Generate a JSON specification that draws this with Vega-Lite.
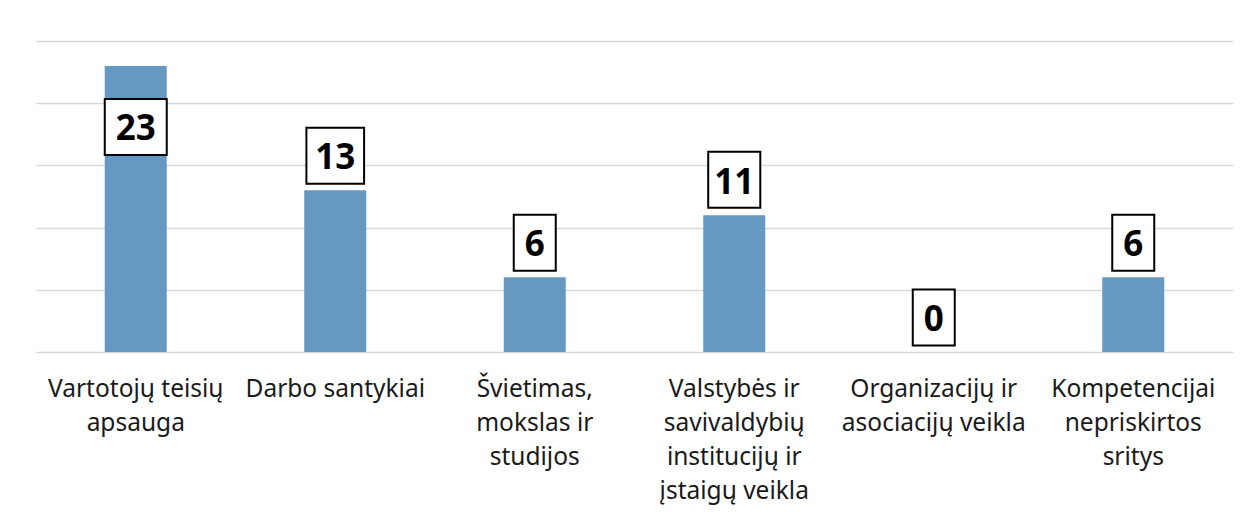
{
  "$schema": "https://vega.github.io/schema/vega-lite/v6.json",
  "width": 1197,
  "height": 311,
  "autosize": {"type": "none"},
  "padding": {"left": 36, "top": 41, "right": 16, "bottom": 161},
  "background": "white",
  "config": {"view": {"stroke": null}, "font": "Noto Sans"},
  "data": {
    "values": [
      {"cat": "Vartotojų teisių|apsauga", "value": 23},
      {"cat": "Darbo santykiai", "value": 13},
      {"cat": "Švietimas,|mokslas ir|studijos", "value": 6},
      {"cat": "Valstybės ir|savivaldybių|institucijų ir|įstaigų veikla", "value": 11},
      {"cat": "Organizacijų ir|asociacijų veikla", "value": 0},
      {"cat": "Kompetencijai|nepriskirtos|sritys", "value": 6}
    ]
  },
  "encoding": {
    "x": {
      "field": "cat",
      "type": "nominal",
      "sort": null,
      "scale": {"paddingInner": 0, "paddingOuter": 0},
      "axis": {
        "title": null,
        "domain": false,
        "ticks": false,
        "labelAngle": 0,
        "labelExpr": "split(datum.label, '|')",
        "labelFont": "Noto Sans",
        "labelFontSize": 24.5,
        "labelColor": "#1a1a1a",
        "labelLineHeight": 34,
        "labelPadding": 25,
        "labelBaseline": "top",
        "labelOverlap": false,
        "labelLimit": 400
      }
    },
    "y": {
      "field": "value",
      "type": "quantitative",
      "scale": {"domain": [0, 25], "nice": false},
      "axis": {
        "values": [0, 5, 10, 15, 20, 25],
        "grid": true,
        "gridColor": "#d9d9d9",
        "gridWidth": 1.5,
        "labels": false,
        "ticks": false,
        "domain": false,
        "title": null
      }
    }
  },
  "layer": [
    {"mark": {"type": "bar", "width": 62, "color": "#6599C2"}},
    {
      "transform": [{"filter": "datum.value <= 20"}],
      "mark": {"type": "point", "filled": false, "fill": "white", "fillOpacity": 1, "stroke": "black", "strokeWidth": 2, "opacity": 1, "size": 3136},
      "encoding": {
        "shape": {
          "condition": [
            {"test": "datum.value == 11", "value": "M-0.93,-2.268H0.93V-0.268H-0.93Z"},
            {"test": "datum.value >= 10", "value": "M-1.03,-2.232H1.03V-0.232H-1.03Z"}
          ],
          "value": "M-0.75,-2.232H0.75V-0.232H-0.75Z"
        }
      }
    },
    {
      "transform": [{"filter": "datum.value > 20"}],
      "mark": {"type": "point", "filled": false, "fill": "white", "fillOpacity": 1, "stroke": "black", "strokeWidth": 2, "opacity": 1, "size": 3136, "shape": "M-1.107,1.179H1.107V3.179H-1.107Z"}
    },
    {
      "transform": [{"filter": "datum.value <= 20"}],
      "mark": {"type": "text", "font": "Noto Sans", "fontSize": 35, "fontWeight": "bold", "color": "black", "baseline": "middle", "align": "center", "dy": -32.5},
      "encoding": {"text": {"field": "value", "type": "quantitative"}}
    },
    {
      "transform": [{"filter": "datum.value > 20"}],
      "mark": {"type": "text", "font": "Noto Sans", "fontSize": 35, "fontWeight": "bold", "color": "black", "baseline": "middle", "align": "center", "dy": 63},
      "encoding": {"text": {"field": "value", "type": "quantitative"}}
    }
  ]
}
